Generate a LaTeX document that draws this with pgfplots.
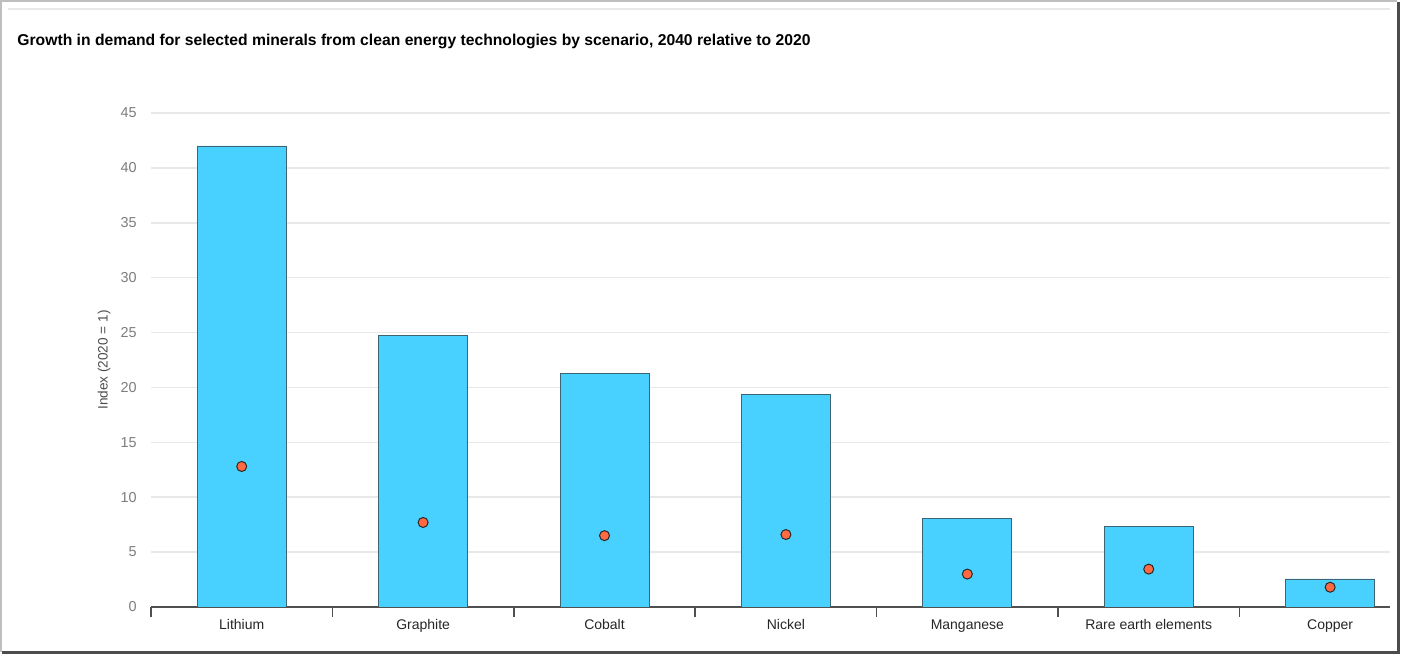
\documentclass[border=0pt]{standalone}
\usepackage{fontspec}
\setmainfont{Liberation Sans}
\usepackage{pgfplots}
\pgfplotsset{compat=1.18}
\definecolor{barfill}{RGB}{72,209,255}
\definecolor{baredge}{RGB}{60,100,115}
\definecolor{dotfill}{RGB}{255,106,66}
\definecolor{dotedge}{RGB}{40,40,40}
\definecolor{axisgray}{RGB}{80,80,80}
\definecolor{gridgray}{RGB}{232,232,232}
\definecolor{ticklab}{RGB}{125,125,125}
\begin{document}
\begin{tikzpicture}
\useasboundingbox (0,0) rectangle (701pt,328pt);
\fill[white] (0,0) rectangle (701pt,328pt);
% screenshot frame
\draw[black!25, line width=1pt] (0.5pt,2pt) -- (0.5pt,327.5pt) -- (698.5pt,327.5pt);
\draw[black!70, line width=1.5pt] (1pt,1.5pt) -- (699.3pt,1.5pt) -- (699.3pt,327pt);
\draw[gridgray, line width=0.75pt] (4pt,323.5pt) -- (695pt,323.5pt);
\node[anchor=base west, inner sep=0pt, font=\bfseries\fontsize{7.85}{9.4}\selectfont] at (8.5pt,305.25pt)
  {Growth in demand for selected minerals from clean energy technologies by scenario, 2040 relative to 2020};
\begin{axis}[
  at={(75.5pt,24.5pt)}, anchor=south west,
  scale only axis, width=619.5pt, height=247pt,
  xmin=-0.5, xmax=6.33, ymin=0, ymax=45,
  axis x line*=bottom, axis y line*=left,
  x axis line style={draw=axisgray, line width=1pt, -},
  y axis line style={draw=none},
  xtick={0,1,2,3,4,5,6},
  xticklabels={Lithium,Graphite,Cobalt,Nickel,Manganese,Rare earth elements,Copper},
  major x tick style={draw=none},
  extra x ticks={-0.5,0.5,1.5,2.5,3.5,4.5,5.5},
  extra x tick labels={},
  extra x tick style={tick align=outside, major tick length=5pt,
    major x tick style={draw=axisgray, line width=0.8pt}, grid=none},
  ytick={0,5,...,45},
  ytick style={draw=none},
  ymajorgrids, major grid style={draw=gridgray, line width=0.75pt},
  /pgf/number format/assume math mode=true,
  xticklabel style={font=\fontsize{7}{8}\selectfont, text=black!85, anchor=north, inner sep=0pt, yshift=-6pt},
  yticklabel style={font=\fontsize{7.2}{8}\selectfont, text=ticklab, anchor=east, inner sep=0pt, xshift=-7pt},
  ylabel={Index (2020 = 1)},
  every axis y label/.style={at={(rel axis cs:-0.0379,0.5)}, rotate=90, anchor=center,
    font=\fontsize{6.8}{8}\selectfont, text=black!70},
]
\addplot[ybar, bar width=44.5pt, bar shift=0pt, fill=barfill, draw=baredge, line width=0.4pt]
  coordinates {(0,42) (1,24.7) (2,21.3) (3,19.4) (4,8.1) (5,7.3) (6,2.55)};
\addplot[only marks, mark=*, mark size=2.5pt, mark options={fill=dotfill, draw=dotedge, line width=0.5pt}]
  coordinates {(0,12.8) (1,7.7) (2,6.5) (3,6.6) (4,3.0) (5,3.45) (6,1.8)};
\end{axis}
\end{tikzpicture}
\end{document}
